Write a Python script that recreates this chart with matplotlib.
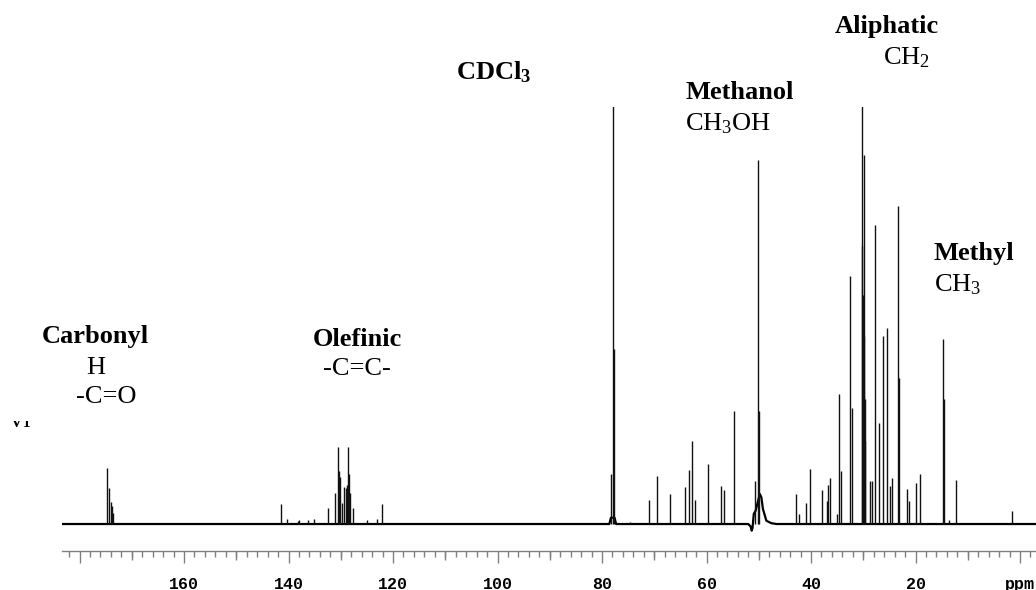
import numpy as np
import matplotlib
matplotlib.use("Agg")
import matplotlib.pyplot as plt
from matplotlib.ticker import FixedLocator, MultipleLocator
from matplotlib.transforms import Bbox

plt.rcParams['mathtext.fontset'] = 'custom'
plt.rcParams['mathtext.rm'] = 'Liberation Serif'
plt.rcParams['mathtext.bf'] = 'Liberation Serif:bold'
plt.rcParams['mathtext.it'] = 'Liberation Serif:italic'

# peak positions (ppm) and heights (% of full scale)
carbonyl_ppm = [174.8, 174.3, 174.05, 173.8, 173.55]
carbonyl_int = [13.4, 8.6, 5.3, 4.3, 2.6]

olefin_ppm = [141.5, 140.2, 138.2, 137.9, 136.3, 135.2, 132.5,
              131.1, 130.59, 130.33, 130.1, 129.82, 129.38, 129.05, 128.9,
              128.61, 128.42, 128.2, 127.7, 124.9, 123.1, 122.16]
olefin_int = [4.8, 1.2, 0.8, 1.0, 1.0, 1.2, 3.9,
              7.4, 18.5, 12.7, 11.3, 5.0, 8.9, 8.6, 9.3,
              18.5, 12.1, 7.4, 3.8, 1.0, 1.1, 4.8]

mid_ppm = [78.2, 77.96, 77.8, 74.64, 71.0, 69.4, 66.9, 64.2, 63.35, 62.78,
           62.14, 59.71, 57.29, 56.71, 54.67, 50.78, 50.21, 49.95]
mid_int = [12, 105, 42, 0.6, 5.7, 11.6, 7.3, 8.8, 13.0, 19.8,
           5.7, 14.4, 9.2, 8.1, 27.1, 10.3, 87.2, 27.0]

aliph_ppm = [42.93, 42.36, 40.96, 40.19, 37.83, 37.0, 36.68, 36.3, 35.1,
             34.64, 34.26, 32.54, 32.09, 30.24, 30.15, 30.05, 29.92, 29.85,
             29.75, 29.65, 28.7, 28.4, 27.75, 26.92, 26.16, 25.45, 24.88,
             24.43, 23.29, 23.09, 21.69, 21.18, 19.97, 19.2, 14.67, 14.6,
             13.5, 12.31, 1.6]
aliph_int = [7.2, 2.4, 5.0, 13.2, 8.1, 5.4, 9.4, 11.0, 2.4,
             31.1, 12.8, 59.4, 27.9, 105, 66.6, 55, 88.4, 45,
             30, 20, 10.3, 10.3, 71.6, 24.3, 45.0, 47.0, 9.2,
             11.0, 76.3, 35.1, 8.4, 5.4, 9.8, 12.0, 44.4, 30,
             1.0, 10.6, 3.2]

# baseline profile (broad solvent humps)
base_ppm = [183.35, 78.6, 78.3, 77.6, 77.3, 52.0, 51.55, 51.35, 51.2, 50.95,
            50.6, 49.8, 49.5, 49.2, 48.55, 47.6, 46.6, -3.06]
base_int = [0, 0, 1.5, 1.5, 0, 0, -0.6, -1.6, -1.0, 2.4,
            3.2, 7.2, 6.4, 3.6, 0.8, 0.2, 0, 0]

major_ticks = [180, 160, 140, 120, 100, 80, 60, 40, 20, 0]
major_labels = ['', '160', '140', '120', '100', '80', '60', '40', '20', 'ppm']
mid_ticks = [170, 150, 130, 110, 90, 70, 50, 30, 10]

W, H = 1036, 590
fig = plt.figure(figsize=(W / 100, H / 100), dpi=100)
ax = fig.add_axes([62 / W, (H - 551) / H, 1 - 62 / W, (551 - 107) / H])

ax.plot(base_ppm, base_int, color='black', lw=1.6)
for p, h in [(carbonyl_ppm, carbonyl_int), (olefin_ppm, olefin_int),
             (mid_ppm, mid_int), (aliph_ppm, aliph_int)]:
    ax.vlines(p, 0, h, color='#111111', lw=1.0)

ax.set_xlim(183.35, -3.06)
ax.set_ylim(-6.47, 100)

for s in ['top', 'left', 'right']:
    ax.spines[s].set_visible(False)
ax.spines['bottom'].set_color('0.5')
ax.spines['bottom'].set_linewidth(1.0)
ax.set_yticks([])

ax.xaxis.set_major_locator(FixedLocator(major_ticks))
ax.set_xticklabels(major_labels)
ax.xaxis.set_minor_locator(MultipleLocator(2))
ax.tick_params(axis='x', which='major', length=8.6, width=1, color='0.5',
               pad=10, labelsize=12)
ax.tick_params(axis='x', which='minor', length=4, width=1, color='0.5')
for lab in ax.get_xticklabels():
    lab.set_family('Liberation Mono')
    lab.set_weight('bold')

sec = ax.secondary_xaxis('bottom')
sec.set_xticks(mid_ticks)
sec.tick_params(axis='x', length=6.5, width=1, color='0.5', labelbottom=False)
sec.spines['bottom'].set_visible(False)


def put(x, y, s, bold=False, **kw):
    return fig.text(x / W, 1 - y / H, s, ha='left', va='baseline',
                    family='Liberation Serif',
                    weight='bold' if bold else 'normal', fontsize=19, **kw)


put(41.7, 343, 'Carbonyl', bold=True)
put(86, 374, 'H')
put(76, 403, '-C=O')
put(313, 345.5, 'Olefinic', bold=True)
put(323, 375, '-C=C-')
put(456, 79, r'CDCl$\mathbf{_3}$', bold=True)
put(685, 99, 'Methanol', bold=True)
put(685, 130, r'CH$_3$OH')
put(835, 32.5, 'Aliphatic', bold=True)
put(883, 64, r'CH$_2$')
put(934, 260, 'Methyl', bold=True)
put(934, 291.5, r'CH$_3$')

t = put(10, 427, 'vl')
t.set_clip_box(Bbox.from_extents(0, 0, 60, H - 421))
t.set_clip_on(True)

fig.savefig('out.png', dpi=100)
